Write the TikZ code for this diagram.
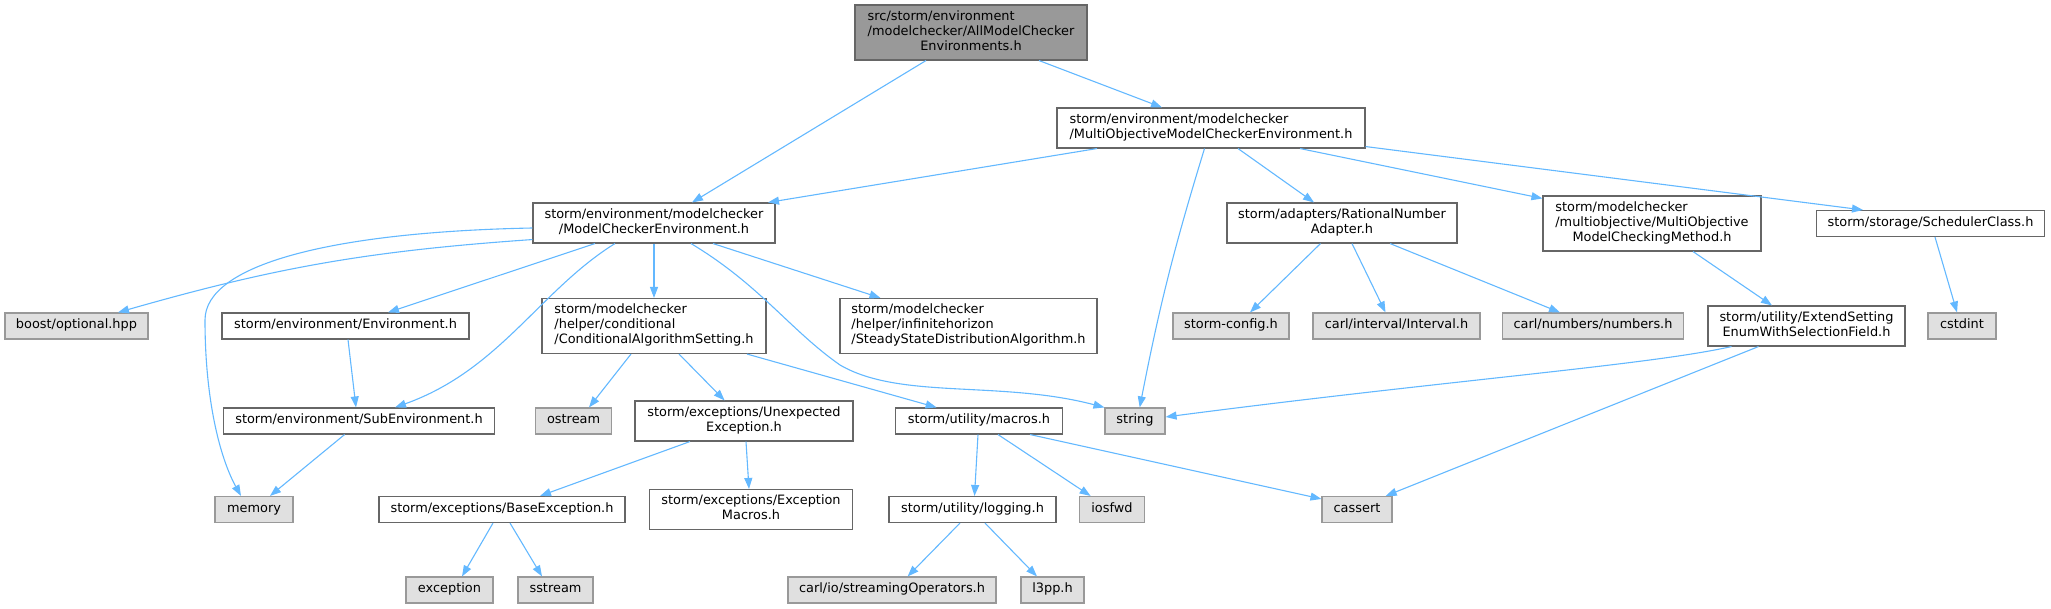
\documentclass[tikz,border=0pt]{standalone}
\usepackage{fontspec}
\setmainfont{DejaVu Sans}
\usetikzlibrary{arrows.meta}
\definecolor{cdark}{HTML}{666666}
\definecolor{cmid}{HTML}{999999}
\definecolor{clight}{HTML}{E0E0E0}
\definecolor{cedge}{HTML}{63B8FF}
\newcommand\Lines[1]{\begin{tabular}{@{}l@{}}#1\end{tabular}}
\newcommand\Cen[1]{\multicolumn{1}{@{}c@{}}{#1}}
\begin{document}
\begin{tikzpicture}[x=1pt,y=1pt,
  nb/.style={draw=cdark, fill=white, line width=1.1pt, minimum height=26pt, inner sep=0pt,
    font=\fontsize{12.9}{15}\selectfont},
  ng/.style={nb, draw=cmid, fill=clight},
  ntop/.style={nb, draw=cdark, fill=cmid},
  edge/.style={draw=cedge, line width=1.1pt, -{Triangle[length=11pt,width=8pt]}}]
\useasboundingbox (0,0) rectangle (2051,608);
% row 0
\node[ntop, minimum width=232, minimum height=55] (top) at (971,575.5) {\Lines{src/storm/environment\\/modelchecker/AllModelChecker\\\Cen{Environments.h}}};
% row 1
\node[nb, minimum width=308, minimum height=40] (mobj) at (1211,480) {\Lines{storm/environment/modelchecker\\\Cen{/MultiObjectiveModelCheckerEnvironment.h}}};
% row 2
\node[nb, minimum width=242, minimum height=40] (mce) at (654,385) {\Lines{storm/environment/modelchecker\\\Cen{/ModelCheckerEnvironment.h}}};
\node[nb, minimum width=230, minimum height=40] (rna) at (1342,385) {\Lines{storm/adapters/RationalNumber\\\Cen{Adapter.h}}};
\node[nb, minimum width=218, minimum height=55] (momcm) at (1652,384.5) {\Lines{storm/modelchecker\\/multiobjective/MultiObjective\\\Cen{ModelCheckingMethod.h}}};
\node[nb, minimum width=228] (sched) at (1930.5,384.5) {\Lines{storm/storage/SchedulerClass.h}};
% row 3
\node[ng, minimum width=143] (boost) at (76.5,282) {\Lines{boost/optional.hpp}};
\node[nb, minimum width=247] (env) at (345.5,282) {\Lines{storm/environment/Environment.h}};
\node[nb, minimum width=224, minimum height=55] (cond) at (654,282) {\Lines{storm/modelchecker\\/helper/conditional\\\Cen{/ConditionalAlgorithmSetting.h}}};
\node[nb, minimum width=257, minimum height=55] (steady) at (968.5,282) {\Lines{storm/modelchecker\\/helper/infinitehorizon\\\Cen{/SteadyStateDistributionAlgorithm.h}}};
\node[ng, minimum width=116] (sconf) at (1231,282) {\Lines{storm-config.h}};
\node[ng, minimum width=167] (interval) at (1396.5,282) {\Lines{carl/interval/Interval.h}};
\node[ng, minimum width=181] (numbers) at (1593,282) {\Lines{carl/numbers/numbers.h}};
\node[nb, minimum width=197, minimum height=40] (extend) at (1806.5,282) {\Lines{storm/utility/ExtendSetting\\\Cen{EnumWithSelectionField.h}}};
\node[ng, minimum width=68] (cstdint) at (1962,282) {\Lines{cstdint}};
% row 4
\node[nb, minimum width=271] (subenv) at (359,187) {\Lines{storm/environment/SubEnvironment.h}};
\node[ng, minimum width=76] (ostream) at (573.6,187) {\Lines{ostream}};
\node[nb, minimum width=218, minimum height=40] (unexp) at (744,187) {\Lines{storm/exceptions/Unexpected\\\Cen{Exception.h}}};
\node[nb, minimum width=167] (macros) at (979,187) {\Lines{storm/utility/macros.h}};
\node[ng, minimum width=60] (string) at (1135,187) {\Lines{string}};
% row 5
\node[ng, minimum width=78] (memory) at (254,98.5) {\Lines{memory}};
\node[nb, minimum width=246] (baseexc) at (502,98.5) {\Lines{storm/exceptions/BaseException.h}};
\node[nb, minimum width=203, minimum height=40] (excmac) at (751,98.5) {\Lines{storm/exceptions/Exception\\\Cen{Macros.h}}};
\node[nb, minimum width=167] (logging) at (972.5,98.5) {\Lines{storm/utility/logging.h}};
\node[ng, minimum width=65] (iosfwd) at (1112,98.5) {\Lines{iosfwd}};
\node[ng, minimum width=70] (cassert) at (1357,98.5) {\Lines{cassert}};
% row 6
\node[ng, minimum width=87] (exception) at (449.5,18) {\Lines{exception}};
\node[ng, minimum width=75] (sstream) at (555.5,18) {\Lines{sstream}};
\node[ng, minimum width=208] (streaming) at (892,18) {\Lines{carl/io/streamingOperators.h}};
\node[ng, minimum width=63] (l3pp) at (1052.5,18) {\Lines{l3pp.h}};
% edges
\draw[edge] ([xshift=-45]top.south) -- ([xshift=38]mce.north);
\draw[edge] ([xshift=68]top.south) -- ([xshift=-49]mobj.north);
\draw[edge] ([xshift=-114]mobj.south) -- ([xshift=114]mce.north);
\draw[edge] ([xshift=-6.5]mobj.south) to[bend right=3] ([xshift=4.7]string.north);
\draw[edge] ([xshift=27]mobj.south) -- ([xshift=-28]rna.north);
\draw[edge] ([xshift=89]mobj.south) -- ([yshift=-3]momcm.north west);
\draw[edge] ([yshift=2]mobj.south east) -- ([xshift=-67.5]sched.north);
\draw[edge] ([yshift=4]mce.south west) to[bend right=6] ([xshift=41.5]boost.north);
\draw[edge] ([yshift=-5]mce.west) .. controls (330,376) and (205,343) .. (205,288)
   .. controls (205,208) and (220,150) .. ([xshift=-13]memory.north);
\draw[edge] ([xshift=-59]mce.south) -- ([xshift=42.5]env.north);
\draw[edge] ([xshift=-39]mce.south) .. controls (540,318) and (500,238) .. ([xshift=36]subenv.north);
\draw[edge] (mce.south) -- (cond.north);
\draw[edge] ([xshift=37]mce.south) .. controls (760,323) and (790,278) .. (840,243)
   .. controls (900,208) and (1000,228) .. (string.north west);
\draw[edge] ([xshift=59]mce.south) -- ([xshift=-88]steady.north);
\draw[edge] ([xshift=2.5]env.south) -- ([xshift=-3]subenv.north);
\draw[edge] ([xshift=-14.4]subenv.south) -- ([xshift=16]memory.north);
\draw[edge] ([xshift=-23]cond.south) -- ([xshift=15.4]ostream.north);
\draw[edge] ([xshift=25]cond.south) -- ([xshift=-19.4]unexp.north);
\draw[edge] ([xshift=93]cond.south) -- ([xshift=-42.4]macros.north);
\draw[edge] ([xshift=-54]unexp.south) -- ([xshift=38]baseexc.north);
\draw[edge] ([xshift=2]unexp.south) -- ([xshift=-2]excmac.north);
\draw[edge] ([xshift=-9]baseexc.south) -- ([xshift=12.5]exception.north);
\draw[edge] ([xshift=8]baseexc.south) -- ([xshift=-13.5]sstream.north);
\draw[edge] ([xshift=-1]macros.south) -- ([xshift=2]logging.north);
\draw[edge] ([xshift=19]macros.south) -- ([xshift=-21.4]iosfwd.north);
\draw[edge] ([xshift=51]macros.south) -- ([yshift=-3]cassert.north west);
\draw[edge] ([xshift=-12.5]logging.south) -- ([xshift=15.6]streaming.north);
\draw[edge] ([xshift=12.5]logging.south) -- ([xshift=-15.5]l3pp.north);
\draw[edge] ([xshift=-21.5]rna.south) -- ([xshift=19]sconf.north);
\draw[edge] ([xshift=10]rna.south) -- ([xshift=-11]interval.north);
\draw[edge] ([xshift=48]rna.south) -- ([xshift=-33]numbers.north);
\draw[edge] ([xshift=41]momcm.south) -- ([xshift=-34.5]extend.north);
\draw[edge] ([xshift=4.5]sched.south) -- ([xshift=-5]cstdint.north);
\draw[edge] ([xshift=-75]extend.south) .. controls (1650,243) and (1450,228) .. ([yshift=4]string.east);
\draw[edge] ([xshift=-48]extend.south) -- ([xshift=28.7]cassert.north);
\end{tikzpicture}
\end{document}
